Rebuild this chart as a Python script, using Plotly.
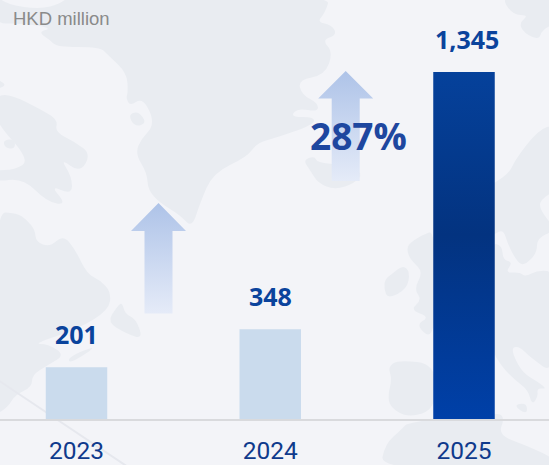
import plotly.graph_objects as go

# Revenue by year, HKD million
years = ["2023", "2024", "2025"]
revenue = [201, 348, 1345]
growth_label = "287%"
unit_label = "HKD million"

W, H = 549, 465
BASE = 419                 # pixel row of the baseline
PX_PER_UNIT = 347 / 1345
BG = "#f3f4f8"
LAND = "#e9ecf1"
NAVY = "#0a439c"
PALE_BAR = "#cadbed"
SLOT = 193.75              # pixels between category centres
FIRST = 76.5               # pixel column of the first category
BAR_W = 61.5 / SLOT

# Faint world map behind the chart, outlines in page pixels
map_outlines = [
    # Greenland
    [(72, -6), (60, 4), (40, 9), (8, 5), (-6, -6), (-6, 24), (20, 23), (53, 28), (38, 32), (50, 40), (57, 47),
     (100, 47), (108, 55), (127, 73), (128, 93), (126, 98), (130, 106), (142, 98), (152, 115), (152, 128),
     (142, 138), (135, 153), (147, 173), (148, 190), (160, 203), (180, 215), (192, 228), (200, 203), (213, 173),
     (247, 157), (257, 143), (275, 138), (313, 125), (315, 117), (290, 117), (298, 108), (318, 112), (318, 103),
     (302, 95), (298, 80), (325, 75), (333, 52), (322, 40), (337, 35), (332, 25), (317, 22), (325, 13), (331, -6)],
    [(128, 115), (138, 111), (147, 123), (135, 127)],
    # Arctic islands
    [(-6, 98), (8, 93), (42, 110), (58, 120), (55, 132), (75, 142), (91, 154), (80, 173), (60, 158), (72, 177),
     (72, 195), (50, 185), (67, 205), (47, 202), (23, 178), (-6, 182), (-6, 170), (15, 170), (30, 160), (-6, 120)],
    [(3, 140), (15, 139), (15, 149), (5, 148)],
    [(-6, 78), (8, 85), (-6, 90)],
    # Eastern Canada
    [(-6, 212), (17, 213), (27, 220), (35, 230), (36, 242), (50, 247), (63, 235), (75, 249), (87, 274), (100, 280),
     (111, 292), (109, 310), (78, 329), (33, 344), (48, 344), (65, 355), (48, 365), (32, 375), (32, 387), (15, 395),
     (8, 407), (-6, 416)],
    [(117, 307), (122, 302), (125, 314), (136, 319), (143, 339), (127, 334), (107, 322)],
    [(68, 357), (100, 344), (70, 364)],
    # Iceland
    [(303, 160), (315, 156), (317, 163), (348, 165), (363, 173), (355, 183), (335, 190), (318, 183), (310, 170)],
    # Ireland and Britain
    [(385, 279), (392, 274), (403, 265), (410, 272), (407, 289), (388, 299), (384, 289)],
    [(407, 245), (422, 235), (436, 230), (436, 342), (415, 325), (430, 317), (410, 310), (422, 300), (414, 289),
     (423, 272), (413, 262), (408, 255)],
    # Iberia
    [(388, 367), (398, 360), (436, 364), (436, 409), (408, 418), (390, 407), (388, 395), (392, 379)],
    # Scandinavia
    [(480, 190), (495, 183), (510, 172), (515, 160), (538, 130), (556, 124), (556, 190), (540, 200), (540, 210),
     (556, 230), (537, 238), (537, 253), (525, 265), (518, 263), (508, 245), (503, 228), (490, 238)],
    # Northern tip of Russia
    [(500, -6), (512, 15), (529, 15), (519, 23), (524, 33), (539, 40), (542, 30), (556, 23), (556, -6)],
    # Continental Europe and Italy
    [(490, 243), (502, 245), (503, 260), (513, 262), (505, 273), (520, 272), (525, 277), (538, 270), (556, 272),
     (556, 376), (530, 357), (520, 347), (512, 347), (514, 357), (523, 373), (538, 382), (547, 389), (537, 388),
     (538, 397), (532, 405), (528, 390), (515, 380), (502, 367), (490, 347)],
    [(513, 405), (527, 403), (527, 415)],
    # North Africa
    [(380, 470), (385, 444), (402, 429), (408, 422), (495, 412), (505, 417), (498, 435), (525, 445), (556, 459),
     (556, 470)],
]


def paper_x(px):
    return px / W


def paper_y(py):
    return (BASE - py) / BASE


def data_x(px):
    return (px - FIRST) / SLOT


def data_y(py):
    return (BASE - py) / PX_PER_UNIT


def smooth_path(points):
    """Closed outline with rounded corners, in paper coordinates."""
    pts = [(paper_x(x), paper_y(y)) for x, y in points]
    mids = [((a[0] + b[0]) / 2, (a[1] + b[1]) / 2) for a, b in zip(pts, pts[1:] + pts[:1])]
    path = f"M{mids[-1][0]:.4f},{mids[-1][1]:.4f}"
    for p, m in zip(pts, mids):
        path += f" Q{p[0]:.4f},{p[1]:.4f} {m[0]:.4f},{m[1]:.4f}"
    return path + " Z"


shapes = [
    dict(type="path", path=smooth_path(o), xref="paper", yref="paper", fillcolor=LAND, line_width=0, layer="below")
    for o in map_outlines
]
# Faint diagonal streak across the lower left corner
shapes.append(dict(type="line", xref="paper", yref="paper", x0=paper_x(-2), y0=paper_y(380),
                   x1=paper_x(128), y1=paper_y(467), line=dict(color="#e6e8ee", width=2), layer="below"))

fig = go.Figure()

# Two growth arrows, fading out towards the tail
ARROW_SCALE = [[0, "#e5ebf8"], [1, "#aec3e8"]]
for tip_x, tip_y, head_y, tail_y in [(158.5, 203, 231, 313.5), (345.7, 71, 98.5, 181)]:
    xs = [tip_x - 14, tip_x - 14, tip_x - 27.5, tip_x, tip_x + 27.5, tip_x + 14, tip_x + 14, tip_x - 14]
    ys = [tail_y, head_y, head_y, tip_y, head_y, head_y, tail_y, tail_y]
    fig.add_trace(go.Scatter(
        x=[data_x(v) for v in xs], y=[data_y(v) for v in ys], mode="none", fill="toself",
        fillgradient=dict(type="vertical", colorscale=ARROW_SCALE), hoverinfo="skip", showlegend=False,
    ))

# Earlier years as plain pale bars
fig.add_trace(go.Bar(x=[0, 1], y=revenue[:2], width=BAR_W, marker=dict(color=PALE_BAR, line_width=0), showlegend=False))

# Latest year as a filled column so it can carry a gradient
half = BAR_W / 2
fig.add_trace(go.Scatter(
    x=[2 - half, 2 + half, 2 + half, 2 - half, 2 - half],
    y=[0, 0, revenue[2], revenue[2], 0],
    mode="none", fill="toself", showlegend=False,
    fillgradient=dict(type="vertical", colorscale=[[0, "#0040a8"], [0.53, "#033380"], [1, "#05419b"]]),
))

annotations = [
    dict(x=i, y=v, text=f"{v:,}", showarrow=False, yanchor="bottom", yshift=14, xshift=3 if i == 2 else 0,
         font=dict(family="Open Sans", size=25, color=NAVY, weight="bold"))
    for i, v in enumerate(revenue)
]
annotations.append(dict(x=paper_x(358), y=paper_y(135), xref="paper", yref="paper", text=growth_label,
                        showarrow=False, xanchor="center", yanchor="middle",
                        font=dict(family="Open Sans", size=37, color="#1e479f", weight="bold")))
annotations.append(dict(x=paper_x(11), y=paper_y(18), xref="paper", yref="paper", text=unit_label,
                        showarrow=False, xanchor="left", yanchor="middle",
                        font=dict(family="Liberation Sans", size=18.5, color="#8a8a8a")))

fig.update_layout(
    width=W, height=H, margin=dict(l=0, r=0, t=0, b=H - BASE, autoexpand=False),
    paper_bgcolor=BG, plot_bgcolor="rgba(0,0,0,0)", shapes=shapes, annotations=annotations,
    xaxis=dict(range=[data_x(0), data_x(W)], tickvals=[0, 1, 2], ticktext=years, showgrid=False, zeroline=False,
               automargin=False, showline=True, linecolor="#d9dadd", linewidth=2, ticks="outside", ticklen=8.5,
               tickcolor="rgba(0,0,0,0)", tickfont=dict(family="Roboto", size=24.5, color="#0f3a8c")),
    yaxis=dict(range=[0, data_y(0)], visible=False, automargin=False),
)

fig.write_html("out.html", config={"displayModeBar": False})
